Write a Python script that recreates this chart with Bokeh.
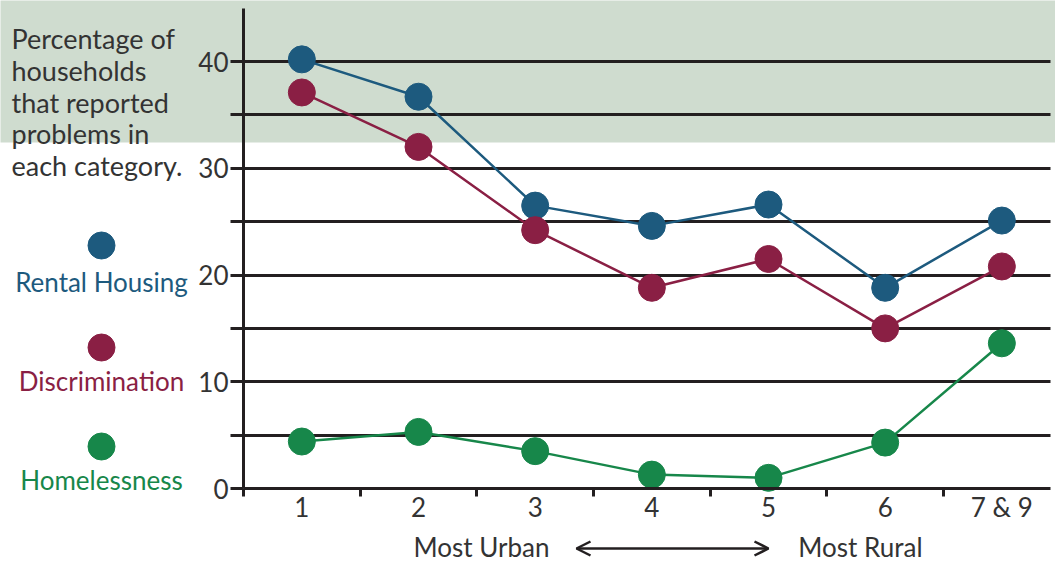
from bokeh.plotting import figure
from bokeh.models import (LinearAxis, FixedTicker, Grid, Label, Arrow, OpenHead,
                          BoxAnnotation, Range1d)
from bokeh.embed import file_html
from bokeh.resources import INLINE

# ---- data ----
categories = ["1", "2", "3", "4", "5", "6", "7 & 9"]
rental = [40.2, 36.7, 26.5, 24.6, 26.6, 18.8, 25.1]
discrimination = [37.1, 32.0, 24.2, 18.8, 21.5, 15.0, 20.8]
homelessness = [4.4, 5.3, 3.5, 1.3, 1.0, 4.3, 13.6]
series_names = ["Rental Housing", "Discrimination", "Homelessness"]
y_major = [0, 10, 20, 30, 40]
y_minor = [5, 15, 25, 35]
note_lines = ["Percentage of", "households", "that reported", "problems in", "each category."]

BLUE = "#1d5a7e"
RED = "#8a1f44"
GREEN = "#17874a"
BAND = "#cfdccf"
INK = "#231f20"
TEXT = "#333333"
FONT = "Lato"

W, H = 1055, 563
PX_X = 116.67   # pixels per category
PX_Y = 10.675   # pixels per percent
AXIS_X = 243    # canvas x of y-axis
ZERO_Y = 488    # canvas y of value 0


def dx(px):
    return 0.5 + (px - AXIS_X) / PX_X


def dy(py):
    return (ZERO_Y - py) / PX_Y


x_start, x_end = dx(0), dx(W)
y_start, y_end = dy(H), dy(0)

p = figure(width=W, height=H, output_backend="svg", toolbar_location=None,
           x_range=Range1d(x_start, x_end), y_range=Range1d(y_start, y_end),
           min_border=0, x_axis_type=None, y_axis_type=None,
           background_fill_color="white", border_fill_color="white",
           outline_line_color=None)
p.xgrid.visible = False
p.ygrid.visible = False

# green band
p.add_layout(BoxAnnotation(bottom=dy(142), top=y_end + 5, left=x_start - 5, right=x_end + 5,
                           fill_color=BAND, fill_alpha=1.0, line_color=None, level="underlay"))

# horizontal rules
grid = Grid(dimension=1, ticker=FixedTicker(ticks=y_major[1:] + y_minor), grid_line_color=INK,
            grid_line_width=3, cross_bounds=(0.5, dx(1050)))
p.add_layout(grid, "center")

# y axis
yaxis = LinearAxis(fixed_location=0.5, ticker=FixedTicker(ticks=y_major, minor_ticks=y_minor),
                   bounds=(0, dy(8)),
                   axis_line_color=INK, axis_line_width=3,
                   major_tick_line_color=INK, major_tick_line_width=3,
                   major_tick_out=13, major_tick_in=0,
                   minor_tick_line_color=INK, minor_tick_line_width=3,
                   minor_tick_out=13, minor_tick_in=0,
                   major_label_standoff=2, major_label_text_font=FONT,
                   major_label_text_font_size="26px", major_label_text_color=TEXT)
p.add_layout(yaxis, "left")

# x axis: line, separators (minor ticks) and category labels
positions = list(range(1, len(categories) + 1))
separators = [i + 0.5 for i in range(len(categories))]
xaxis = LinearAxis(fixed_location=0, ticker=FixedTicker(ticks=positions, minor_ticks=separators),
                   major_label_overrides={i: c for i, c in zip(positions, categories)},
                   bounds=(0.5, dx(1050)),
                   axis_line_color=INK, axis_line_width=3,
                   major_tick_line_color=None, major_tick_out=0, major_tick_in=0,
                   minor_tick_line_color=INK, minor_tick_line_width=3,
                   minor_tick_out=8, minor_tick_in=0,
                   major_label_standoff=-6, major_label_text_font=FONT,
                   major_label_text_font_size="26px", major_label_text_color=TEXT)
p.add_layout(xaxis, "below")

# series
for vals, color in [(rental, BLUE), (discrimination, RED), (homelessness, GREEN)]:
    p.line(positions, vals, line_color=color, line_width=2.5)
    p.scatter(positions, vals, size=27, fill_color=color, line_color=color)

# left note
for i, t in enumerate(note_lines):
    p.add_layout(Label(x=dx(11), y=dy(38 + i * 31.8), text=t, text_font=FONT,
                       text_font_size="27px", text_color=TEXT, text_baseline="alphabetic",
                       text_align="left"))

# legend
for name, color, cy, ty in [(series_names[0], BLUE, 245, 281),
                            (series_names[1], RED, 347, 380),
                            (series_names[2], GREEN, 446, 479)]:
    p.scatter([dx(101)], [dy(cy)], size=27, fill_color=color, line_color=color)
    p.add_layout(Label(x=dx(101), y=dy(ty), text=name, text_font=FONT,
                       text_font_size="26px", text_color=color, text_align="center",
                       text_baseline="alphabetic"))

# urban / rural
p.add_layout(Label(x=dx(481), y=dy(546), text="Most Urban", text_font=FONT,
                   text_font_size="26px", text_color=TEXT, text_align="center",
                   text_baseline="alphabetic"))
p.add_layout(Label(x=dx(860), y=dy(546), text="Most Rural", text_font=FONT,
                   text_font_size="26px", text_color=TEXT, text_align="center",
                   text_baseline="alphabetic"))
p.add_layout(Arrow(x_start=dx(576), y_start=dy(548), x_end=dx(768), y_end=dy(548),
                   line_color=INK, line_width=2.5,
                   start=OpenHead(size=14, line_color=INK, line_width=2.5),
                   end=OpenHead(size=14, line_color=INK, line_width=2.5)))

open("out.html", "w").write(file_html(p, INLINE))
